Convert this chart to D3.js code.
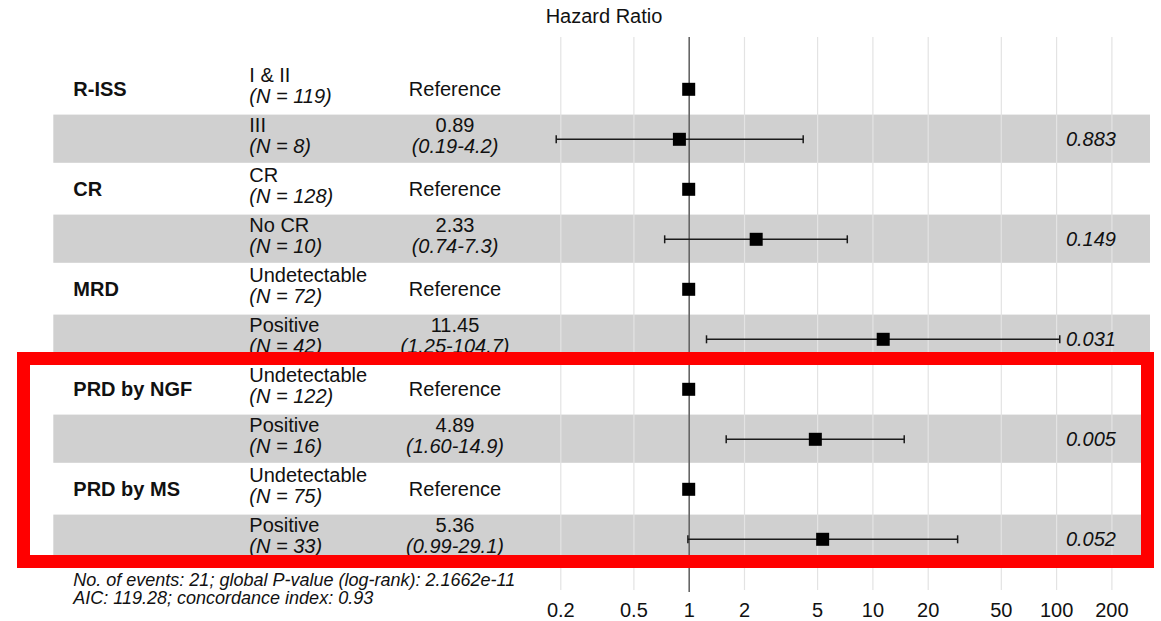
<!DOCTYPE html>
<html>
<head>
<meta charset="utf-8">
<script src="https://cdn.jsdelivr.net/npm/d3@7"></script>
<style>
  body { margin: 0; background: #fff; }
  svg { display: block; font-family: "Liberation Sans", Arial, sans-serif; }
  .txt { font-size: 20px; fill: #111; }
  .it { font-style: italic; }
  .var { font-size: 20px; font-weight: bold; fill: #111; }
  .foot { font-size: 18px; font-style: italic; fill: #111; }
  .axis text { font-size: 20px; fill: #111; font-family: "Liberation Sans", Arial, sans-serif; }
</style>
</head>
<body>
<div class="vis"></div>
<script>
(function () {
    const svgWidth = 1161;
    const svgHeight = 621;

    // table data, one entry per row
    const variables = ["R-ISS", "", "CR", "", "MRD", "", "PRD by NGF", "", "PRD by MS", ""];
    const levels = ["I & II", "III", "CR", "No CR", "Undetectable", "Positive", "Undetectable", "Positive", "Undetectable", "Positive"];
    const counts = [119, 8, 128, 10, 72, 42, 122, 16, 75, 33];
    const hazard = [1, 0.89, 1, 2.33, 1, 11.45, 1, 4.89, 1, 5.36];
    const lower = [null, 0.19, null, 0.74, null, 1.25, null, 1.60, null, 0.99];
    const upper = [null, 4.2, null, 7.3, null, 104.7, null, 14.9, null, 29.1];
    const ciLabels = [null, "(0.19-4.2)", null, "(0.74-7.3)", null, "(1.25-104.7)", null, "(1.60-14.9)", null, "(0.99-29.1)"];
    const pValues = [null, "0.883", null, "0.149", null, "0.031", null, "0.005", null, "0.052"];
    const tickValues = [0.2, 0.5, 1, 2, 5, 10, 20, 50, 100, 200];
    const footnotes = [
        "No. of events: 21; global P-value (log-rank): 2.1662e-11",
        "AIC: 119.28; concordance index: 0.93"
    ];

    const svg = d3.select('.vis')
        .append("svg")
            .attr('width', svgWidth)
            .attr('height', svgHeight);

    const rows = d3.range(levels.length);

    var xScale = d3.scaleLog()
        .domain([0.2, 200])
        .range([560.3, 1111.4]);

    var yScale = d3.scaleBand()
        .domain(rows)
        .range([64.3, 564.3]);

    const bw = yScale.bandwidth();
    const mid = i => yScale(i) + bw / 2;

    // shaded bands on every second row
    svg.append('g')
        .selectAll('rect')
        .data(rows.filter(i => i % 2 === 1))
        .enter().append('rect')
            .attr('x', 53.3)
            .attr('y', i => yScale(i) + 0.3)
            .attr('width', 1150 - 53.3)
            .attr('height', bw - 1.8)
            .attr('fill', '#d0d0d0');

    // axis + grid lines
    var xAxis = d3.axisBottom(xScale)
        .tickValues(tickValues)
        .tickFormat(d3.format('~g'))
        .tickSize(-(590 - 37))
        .tickPadding(12.8);

    var callxAxis = svg.append('g')
        .attr('class', 'axis')
        .attr('transform', 'translate(0, 590)')
        .call(xAxis);
    callxAxis.select('.domain').remove();
    callxAxis.selectAll('.tick line')
        .attr('stroke', '#e3e3e3')
        .attr('stroke-width', 1.2);
    callxAxis.selectAll('.tick')
        .filter(d => d === 1)
        .select('line')
            .attr('stroke', '#666')
            .attr('stroke-width', 1.6)
            .attr('y1', 2);

    // title
    svg.append('text')
        .attr('class', 'txt')
        .attr('x', 604)
        .attr('y', 23)
        .attr('text-anchor', 'middle')
        .text('Hazard Ratio');

    // variable names
    svg.append('g')
        .selectAll('text')
        .data(rows.filter(i => variables[i] !== ""))
        .enter().append('text')
            .attr('class', 'var')
            .attr('x', 73.3)
            .attr('y', i => mid(i))
            .attr('dominant-baseline', 'central')
            .text(i => variables[i]);

    // level + N
    const lev = svg.append('g')
        .selectAll('g')
        .data(rows)
        .enter().append('g');
    lev.append('text')
        .attr('class', 'txt')
        .attr('x', 249.3)
        .attr('y', i => mid(i) - 7.6)
        .text(i => levels[i]);
    lev.append('text')
        .attr('class', 'txt it')
        .attr('x', 249.3)
        .attr('y', i => mid(i) + 14)
        .text(i => "(N = " + counts[i] + ")");

    // estimates column
    const est = svg.append('g')
        .selectAll('g')
        .data(rows)
        .enter().append('g');
    est.filter(i => lower[i] === null).append('text')
        .attr('class', 'txt')
        .attr('x', 455)
        .attr('y', i => mid(i))
        .attr('dominant-baseline', 'central')
        .attr('text-anchor', 'middle')
        .text('Reference');
    est.filter(i => lower[i] !== null).append('text')
        .attr('class', 'txt')
        .attr('x', 455)
        .attr('y', i => mid(i) - 7.6)
        .attr('text-anchor', 'middle')
        .text(i => hazard[i].toFixed(2));
    est.filter(i => lower[i] !== null).append('text')
        .attr('class', 'txt it')
        .attr('x', 455)
        .attr('y', i => mid(i) + 14)
        .attr('text-anchor', 'middle')
        .text(i => ciLabels[i]);

    // p values
    svg.append('g')
        .selectAll('text')
        .data(rows.filter(i => pValues[i] !== null))
        .enter().append('text')
            .attr('class', 'txt it')
            .attr('x', 1116)
            .attr('y', i => mid(i))
            .attr('dominant-baseline', 'central')
            .attr('text-anchor', 'end')
            .text(i => pValues[i]);

    // confidence intervals
    const ci = svg.append('g')
        .attr('stroke', '#1a1a1a')
        .attr('stroke-width', 1.5)
        .selectAll('g')
        .data(rows.filter(i => lower[i] !== null))
        .enter().append('g');
    ci.append('line')
        .attr('x1', i => xScale(lower[i]))
        .attr('x2', i => xScale(upper[i]))
        .attr('y1', i => mid(i))
        .attr('y2', i => mid(i));
    ci.append('line')
        .attr('x1', i => xScale(lower[i]))
        .attr('x2', i => xScale(lower[i]))
        .attr('y1', i => mid(i) - 4)
        .attr('y2', i => mid(i) + 4);
    ci.append('line')
        .attr('x1', i => xScale(upper[i]))
        .attr('x2', i => xScale(upper[i]))
        .attr('y1', i => mid(i) - 4)
        .attr('y2', i => mid(i) + 4);

    // point estimates
    svg.append('g')
        .selectAll('rect')
        .data(rows)
        .enter().append('rect')
            .attr('x', i => xScale(hazard[i]) - 6.5)
            .attr('y', i => mid(i) - 6.5)
            .attr('width', 13)
            .attr('height', 13)
            .attr('fill', '#000');

    // footnote
    svg.append('g')
        .selectAll('text')
        .data(footnotes)
        .enter().append('text')
            .attr('class', 'foot')
            .attr('x', 73.3)
            .attr('y', (d, i) => 586 + i * 18.3)
            .text(d => d);

    // red highlight box
    svg.append('rect')
        .attr('x', 23.5)
        .attr('y', 358.5)
        .attr('width', 1147.5 - 23.5)
        .attr('height', 561.5 - 358.5)
        .attr('fill', 'none')
        .attr('stroke', '#ff0000')
        .attr('stroke-width', 13);
} (d3));
</script>
</body>
</html>
